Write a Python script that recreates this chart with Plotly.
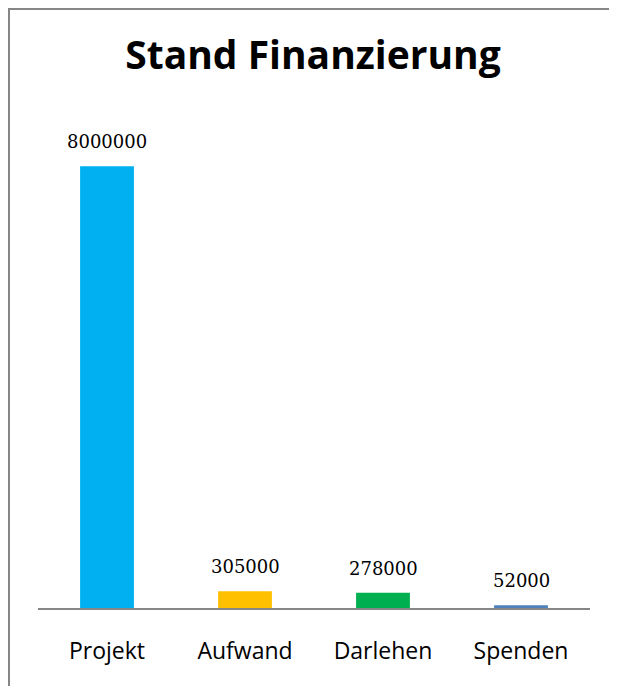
import plotly.graph_objects as go

categories = ["Projekt", "Aufwand", "Darlehen", "Spenden"]
values = [8000000, 305000, 278000, 52000]
colors = ["#00B0F0", "#FFC000", "#00B050", "#4F81BD"]
title_text = "Stand Finanzierung"

OFF = 8  # page body margin
W, H = 617 - OFF, 686 - OFF
# target plot area in screenshot pixels: x 38..590, y 111..608
L = 38 - OFF
T = 111 - OFF
pw, ph = 552, 497
R = W - L - pw
B = H - T - ph

fig = go.Figure()
fig.add_trace(go.Bar(x=categories, y=values, marker=dict(color=colors, line=dict(width=0)),
                     hoverinfo="x+y"))

for c, v in zip(categories, values):
    fig.add_annotation(x=c, y=v, text=str(v), showarrow=False, yanchor="bottom", yshift=12,
                       font=dict(family="DejaVu Serif", size=18, color="#000000"))

def px_x(x):
    return (x - OFF - L) / pw

def px_y(y):
    return (T + ph - (y - OFF)) / ph

fig.add_shape(type="rect", xref="paper", yref="paper",
              x0=px_x(9), x1=px_x(613), y0=px_y(760), y1=px_y(9),
              line=dict(color="#868686", width=2), fillcolor="rgba(0,0,0,0)", layer="above")

fig.update_layout(
    width=W, height=H,
    margin=dict(l=L, r=R, t=T, b=B, pad=0),
    paper_bgcolor="white", plot_bgcolor="white",
    bargap=0.61,
    showlegend=False,
    title=dict(text="<b>" + title_text + "</b>", x=(313 - OFF) / W, xanchor="center",
               y=1 - (55 - OFF) / H, yanchor="middle",
               font=dict(family="Open Sans", size=39, color="#000000")),
    xaxis=dict(showline=True, linecolor="#868686", linewidth=2, ticks="", showgrid=False,
               tickfont=dict(family="Open Sans", size=23, color="#000000"), ticklabelstandoff=21),
    yaxis=dict(range=[0, 9000000], visible=False, showgrid=False, zeroline=False),
)

fig.write_html("out.html")
